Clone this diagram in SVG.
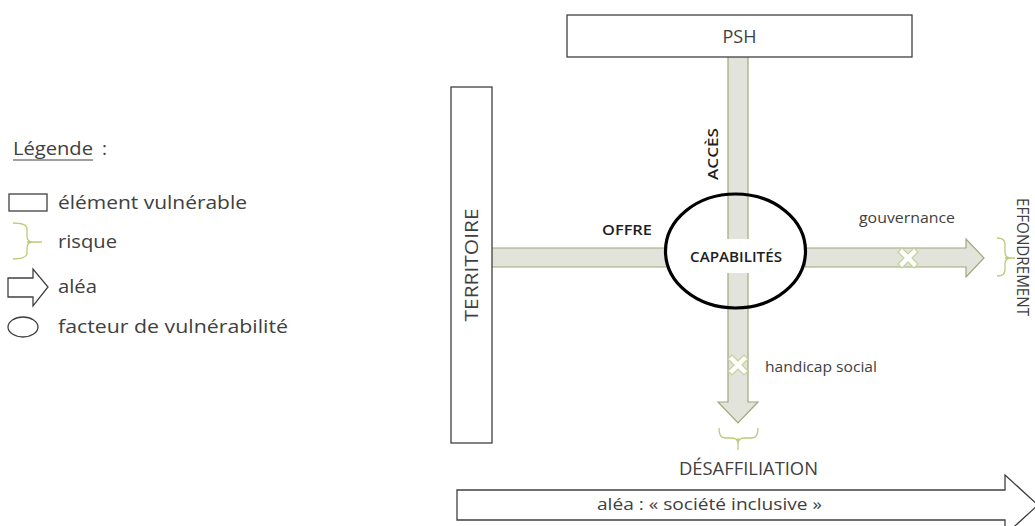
<svg xmlns="http://www.w3.org/2000/svg" width="1035" height="526" viewBox="0 0 1035 526">
<style>
text{font-family:"Open Sans","Liberation Sans",sans-serif;fill:#404040}
.b{font-weight:600;fill:#1e1e1e}
.box{fill:#fff;stroke:#404040;stroke-width:1.3}
.barf{fill:#e2e3db;stroke:none}
.bare{fill:none;stroke:#a3a67a;stroke-width:1.2}
.bar{fill:#e2e3db;stroke:#a3a67a;stroke-width:1.2}
.x{fill:#fff;stroke:#c3d49a;stroke-width:1.2}
.br{fill:none;stroke:#b9cd78;stroke-width:1.3}
.lg{font-size:19px}
</style>
<defs>
<polygon id="xm" class="x" points="-10,-6 -6,-10 0,-4 6,-10 10,-6 4,0 10,6 6,10 0,4 -6,10 -10,6 -4,0"/>
</defs>
<rect width="1035" height="526" fill="#fff"/>

<g id="legend">
<text class="lg" x="13" y="155" textLength="80" lengthAdjust="spacingAndGlyphs">Légende</text>
<line x1="13" y1="160" x2="93" y2="160" stroke="#404040" stroke-width="1"/>
<text class="lg" x="102" y="155">:</text>
<rect class="box" x="9" y="194" width="38" height="17"/>
<text class="lg" x="58" y="209" textLength="189" lengthAdjust="spacingAndGlyphs">élément vulnérable</text>
<path class="br" d="M13,223 Q27,223 27,229 L27,236 Q27,242 33,242 Q27,242 27,248 L27,253 Q27,259 13,259 M27,242 H42"/>
<text class="lg" x="58" y="248" textLength="59" lengthAdjust="spacingAndGlyphs">risque</text>
<polygon class="box" points="8,278 33,278 33,269 48,287 33,306 33,297 8,297"/>
<text class="lg" x="58" y="293" textLength="39" lengthAdjust="spacingAndGlyphs">aléa</text>
<ellipse class="box" cx="23" cy="327" rx="15" ry="10"/>
<text class="lg" x="58" y="333" textLength="230" lengthAdjust="spacingAndGlyphs">facteur de vulnérabilité</text>
</g>

<g id="connectors">
<!-- OFFRE bar -->
<rect class="barf" x="492" y="248" width="175" height="19"/>
<path class="bare" d="M492,248 H667 M492,267 H667"/>
<!-- PSH / ACCES bar -->
<rect class="barf" x="728" y="57" width="20" height="182"/>
<path class="bare" d="M728,57 V239 M748,57 V239"/>
<!-- handicap social arrow -->
<polygon class="barf" points="728,273 748,273 748,402 758,402 738,423 718,402 728,402"/>
<path class="bare" d="M728,273 V402 H718 L738,423 L758,402 H748 V273"/>
<!-- gouvernance arrow -->
<polygon class="bar" points="805,248 966,248 966,239 984,258 966,277 966,267 805,267"/>
<use href="#xm" x="908" y="258"/>
<use href="#xm" x="738" y="365"/>
<!-- risque braces -->
<path class="br" d="M997,238 Q1005,238 1005,244 L1005,252 Q1005,258 1011,258 Q1005,258 1005,264 L1005,270 Q1005,276 997,276 M1005,258 H1015"/>
<path class="br" d="M719,428 Q719,438 725,438 L732,438 Q738,438 738,444 Q738,438 744,438 L752,438 Q758,438 758,428 M738,438 V450"/>
<text x="859" y="223" font-size="14" textLength="96" lengthAdjust="spacingAndGlyphs">gouvernance</text>
<text x="765" y="372" font-size="14" textLength="112" lengthAdjust="spacingAndGlyphs">handicap social</text>
<text class="b" x="602" y="235" font-size="15" textLength="50" lengthAdjust="spacingAndGlyphs">OFFRE</text>
<text class="b" transform="translate(718,180) rotate(-90)" x="0" y="0" font-size="14" textLength="52" lengthAdjust="spacingAndGlyphs">ACCÈS</text>
</g>

<g id="node-psh">
<rect class="box" x="567" y="15" width="345" height="42"/>
<text x="739.5" y="43" font-size="18" text-anchor="middle">PSH</text>
</g>

<g id="node-territoire">
<rect class="box" x="451" y="87" width="41" height="356"/>
<text transform="translate(478,265) rotate(-90)" x="0" y="0" font-size="18" text-anchor="middle" textLength="113" lengthAdjust="spacingAndGlyphs">TERRITOIRE</text>
</g>

<g id="node-capabilites">
<ellipse cx="735.5" cy="251" rx="70" ry="57" fill="none" stroke="#000" stroke-width="3.2"/>
<text class="b" x="736" y="262" font-size="14" text-anchor="middle" textLength="92" lengthAdjust="spacingAndGlyphs">CAPABILITÉS</text>
</g>

<g id="node-effondrement">
<text transform="translate(1017,198) rotate(90)" x="0" y="0" font-size="16" textLength="118" lengthAdjust="spacingAndGlyphs">EFFONDREMENT</text>
</g>

<g id="node-desaffiliation">
<text x="748.5" y="475" font-size="18" text-anchor="middle" textLength="139" lengthAdjust="spacingAndGlyphs">DÉSAFFILIATION</text>
</g>

<g id="node-societe">
<polygon class="box" points="457,490 1005,490 1005,475 1038,505 1005,535 1005,520 457,520"/>
<text x="709.5" y="510" font-size="17" text-anchor="middle" textLength="225" lengthAdjust="spacingAndGlyphs">aléa : « société inclusive »</text>
</g>
</svg>
